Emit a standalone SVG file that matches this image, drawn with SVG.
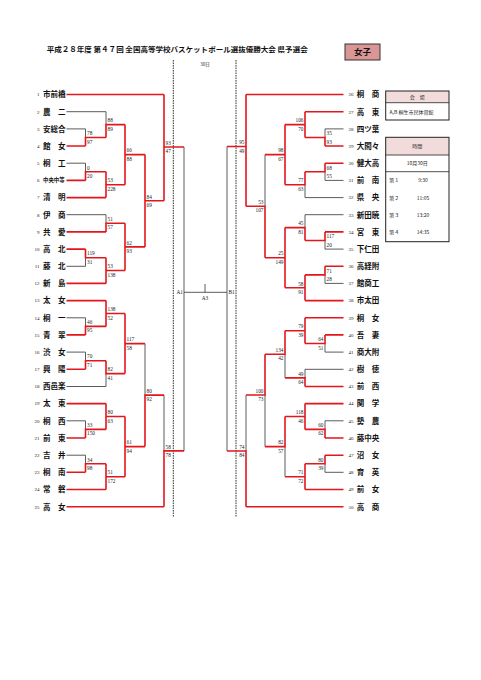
<svg xmlns="http://www.w3.org/2000/svg" width="481" height="680" viewBox="0 0 481 680">
<style>
.r{stroke:#e3161c;stroke-width:1.6;fill:none}
.g{stroke:#4a4a4a;stroke-width:0.9;fill:none}
.d{stroke:#333;stroke-width:1;stroke-dasharray:1.6 0.9;fill:none}
.nm{font-family:"Noto Sans CJK JP","Noto Sans CJK SC",sans-serif;font-size:7.5px;font-weight:bold;fill:#111}
.sm{font-family:"Noto Sans CJK JP","Noto Sans CJK SC",sans-serif;font-size:5.4px;font-weight:bold;fill:#111}
.no{font-family:"Liberation Serif",serif;font-size:5px;fill:#222}
.sc{font-family:"Liberation Serif",serif;font-size:5.3px;fill:#222}
.e{text-anchor:end}
.bx{font-family:"Noto Sans CJK JP",sans-serif;font-size:5px;fill:#222}
</style>
<rect width="481" height="680" fill="#fff"/>
<g id="title">
<text x="46.7" y="51.5" textLength="261" lengthAdjust="spacingAndGlyphs" style="font-family:'Noto Sans CJK JP',sans-serif;font-size:7.3px;font-weight:bold;fill:#111">平成２８年度 第４７回 全国高等学校バスケットボール選抜優勝大会 県予選会</text>
</g>
<g id="badge">
<rect x="345" y="44" width="35" height="16" fill="#d99694" stroke="#333" stroke-width="1"/>
<text x="362.5" y="55.2" text-anchor="middle" style="font-family:'Noto Sans CJK JP',sans-serif;font-size:8.5px;font-weight:bold;fill:#111">女子</text>
</g>
<g id="day"><text x="205" y="66" text-anchor="middle" class="bx" style="font-size:4.5px">30日</text></g>
<g id="connectors">
<path class="d" d="M173.3 60V517M236 60V517"/>
<path class="g" d="M66.5 111.7H106M66.5 128.9H85.5M66.5 163.2H85.5M66.5 214.7H106M66.5 266.3H85.5M66.5 317.8H85.5M66.5 352.1H85.5M66.5 386.5H106M66.5 420.8H85.5M66.5 455.2H85.5
M85.5 128.9V137.45M106 111.7V124.6M85.5 163.2V171.8M106 214.7V223.3M85.5 257.7V266.3M85.5 317.8V326.4M85.5 352.1V360.7M106 373.6V386.5M85.5 420.8V429.4M85.5 455.2V463.8M145 343.6V395.1M164 395.1V450.9
M184 147V450.9M184 292.3H227M205 284V292.3
M343.5 128.9H325M343.5 180.4H325M343.5 197.6H305M343.5 214.7H305M343.5 249.1H325M343.5 283.4H325M343.5 352.1H325M343.5 369.3H305M343.5 420.8H325M343.5 472.3H325
M325 128.9V137.45M325 171.8V180.4M305 184.7V197.6M325 240.5V249.1M305 214.7V227.6M325 274.9V283.4M265 154.6V206.2M325 343.5V352.1M305 369.3V377.9M285 354.3V377.9M325 420.8V429.4M325 463.8V472.3M285 446.6V476.7M265 395V446.6M246 395V451M227 146.5V451"/>
<path class="r" d="M66.5 94.5H164M66.5 146H85.5M66.5 180.4H85.5M66.5 197.6H106M66.5 231.9H106M66.5 249.1H85.5M66.5 283.4H106M66.5 300.6H106M66.5 334.9H85.5M66.5 369.3H85.5M66.5 403.6H106M66.5 438H85.5M66.5 472.3H85.5M66.5 489.5H106M66.5 506.7H164
M85.5 146V137.45H106M106 137.45V124.6H125M85.5 180.4V171.8H106M106 171.8V197.6M106 184.7H125M125 124.6V184.7M125 154.6H145M106 231.9V223.3H125M85.5 249.1V257.7H106M106 257.7V283.4M106 270.5H125M125 223.3V270.5M125 246.9H145M145 154.6V246.9M145 200.8H164M164 94.5V200.8M164 147H184
M85.5 334.9V326.4H106M106 300.6V326.4M106 313.5H125M85.5 369.3V360.7H106M106 360.7V373.6H125M125 313.5V373.6M125 343.6H145M85.5 438V429.4H106M106 403.6V429.4M106 416.5H125M85.5 472.3V463.8H106M106 463.8V489.5M106 476.7H125M125 416.5V476.7M125 446.6H145M145 446.6V395.1H164M164 506.7V450.9H184
M343.5 94.5H246M343.5 111.7H305M343.5 146H325M343.5 163.2H325M343.5 231.9H325M343.5 266.3H325M343.5 300.6H305M343.5 317.8H305M343.5 334.9H325M343.5 386.5H305M343.5 403.6H305M343.5 438H325M343.5 455.2H325M343.5 489.5H305M343.5 506.7H246
M325 146V137.45H305M305 111.7V137.45M305 124.6H285M325 163.2V171.8H305M305 171.8V184.7H285M285 124.6V184.7M285 154.6H265M325 231.9V240.5H305M305 240.5V227.6H285M325 266.3V274.9H305M305 274.9V300.6M305 287.8H285M285 227.6V287.8M285 257.7H265M265 257.7V206.2H246M246 94.5V206.2M246 146.5H227
M325 334.9V343.5H305M305 317.8V343.5M305 330.7H285M305 386.5V377.9H285M285 330.7V354.3H265M325 438V429.4H305M305 403.6V429.4M305 416.5H285M325 455.2V463.8H305M305 463.8V489.5M305 476.7H285M285 416.5V446.6H265M265 354.3V395H246M246 506.7V451H227"/>
</g>
<g id="final-labels">
<text class="sc e" x="183" y="294">A1</text>
<text class="sc" x="228.5" y="294">B1</text>
<text class="sc" x="205" y="300" text-anchor="middle">A3</text>
</g>
<g id="scores-left" class="sc">
<text x="87" y="135.2">78</text><text x="87" y="143.5">97</text>
<text x="107.5" y="122.3">88</text><text x="107.5" y="130.6">89</text>
<text x="87" y="169.5">0</text><text x="87" y="177.8">20</text>
<text x="107.5" y="182.4">53</text><text x="107.5" y="190.7">228</text>
<text x="126.5" y="152.3">66</text><text x="126.5" y="160.6">88</text>
<text x="107.5" y="221">51</text><text x="107.5" y="229.3">57</text>
<text x="87" y="255.4">119</text><text x="87" y="263.7">31</text>
<text x="107.5" y="268.2">53</text><text x="107.5" y="276.5">138</text>
<text x="126.5" y="244.6">62</text><text x="126.5" y="252.9">93</text>
<text x="146.5" y="198.5">84</text><text x="146.5" y="206.8">69</text>
<text x="165.5" y="144.7">93</text><text x="165.5" y="153">47</text>
<text x="87" y="324.1">46</text><text x="87" y="332.4">95</text>
<text x="107.5" y="311.2">138</text><text x="107.5" y="319.5">52</text>
<text x="87" y="358.4">70</text><text x="87" y="366.7">71</text>
<text x="107.5" y="371.3">82</text><text x="107.5" y="379.6">41</text>
<text x="126.5" y="341.3">117</text><text x="126.5" y="349.6">58</text>
<text x="87" y="427.1">33</text><text x="87" y="435.4">150</text>
<text x="107.5" y="414.2">80</text><text x="107.5" y="422.5">63</text>
<text x="87" y="461.5">34</text><text x="87" y="469.8">98</text>
<text x="107.5" y="474.4">51</text><text x="107.5" y="482.7">172</text>
<text x="126.5" y="444.3">61</text><text x="126.5" y="452.6">94</text>
<text x="146.5" y="392.8">80</text><text x="146.5" y="401.1">92</text>
<text x="165.5" y="448.6">58</text><text x="165.5" y="456.9">78</text>
</g>
<g id="scores-right" class="sc">
<text x="326.5" y="135.2">35</text><text x="326.5" y="143.5">93</text>
<text class="e" x="303.5" y="122.3">106</text><text class="e" x="303.5" y="130.6">70</text>
<text x="326.5" y="169.5">68</text><text x="326.5" y="177.8">55</text>
<text class="e" x="303.5" y="182.4">77</text><text class="e" x="303.5" y="190.7">63</text>
<text class="e" x="283.5" y="152.3">98</text><text class="e" x="283.5" y="160.6">67</text>
<text x="326.5" y="238.2">117</text><text x="326.5" y="246.5">20</text>
<text class="e" x="303.5" y="225.3">45</text><text class="e" x="303.5" y="233.6">81</text>
<text x="326.5" y="272.6">71</text><text x="326.5" y="280.9">28</text>
<text class="e" x="303.5" y="285.5">58</text><text class="e" x="303.5" y="293.8">91</text>
<text class="e" x="283.5" y="255.4">25</text><text class="e" x="283.5" y="263.7">149</text>
<text class="e" x="263.5" y="203.9">53</text><text class="e" x="263.5" y="212.2">107</text>
<text class="e" x="244.5" y="144.2">95</text><text class="e" x="244.5" y="152.5">49</text>
<text class="e" x="323.5" y="341.2">64</text><text class="e" x="323.5" y="349.5">51</text>
<text class="e" x="303.5" y="328.4">79</text><text class="e" x="303.5" y="336.7">39</text>
<text class="e" x="303.5" y="375.6">49</text><text class="e" x="303.5" y="383.9">64</text>
<text class="e" x="283.5" y="352">134</text><text class="e" x="283.5" y="360.3">42</text>
<text class="e" x="323.5" y="427.1">60</text><text class="e" x="323.5" y="435.4">62</text>
<text class="e" x="303.5" y="414.2">118</text><text class="e" x="303.5" y="422.5">46</text>
<text class="e" x="323.5" y="461.5">80</text><text class="e" x="323.5" y="469.8">39</text>
<text class="e" x="303.5" y="474.4">71</text><text class="e" x="303.5" y="482.7">72</text>
<text class="e" x="283.5" y="444.3">82</text><text class="e" x="283.5" y="452.6">57</text>
<text class="e" x="263.5" y="392.7">100</text><text class="e" x="263.5" y="401">73</text>
<text class="e" x="244.5" y="448.7">74</text><text class="e" x="244.5" y="457">84</text>
</g>
<g id="team-1"><text class="no e" x="39.5" y="96.3">1</text><text class="nm" x="43" y="97.3">市前橋</text></g>
<g id="team-2"><text class="no e" x="39.5" y="113.5">2</text><text class="nm" x="43" y="114.5">農　二</text></g>
<g id="team-3"><text class="no e" x="39.5" y="130.7">3</text><text class="nm" x="43" y="131.7">安総合</text></g>
<g id="team-4"><text class="no e" x="39.5" y="147.8">4</text><text class="nm" x="43" y="148.8">館　女</text></g>
<g id="team-5"><text class="no e" x="39.5" y="165">5</text><text class="nm" x="43" y="166">桐　工</text></g>
<g id="team-6"><text class="no e" x="39.5" y="182.2">6</text><text class="sm" x="43" y="182.4">中央中等</text></g>
<g id="team-7"><text class="no e" x="39.5" y="199.4">7</text><text class="nm" x="43" y="200.4">清　明</text></g>
<g id="team-8"><text class="no e" x="39.5" y="216.5">8</text><text class="nm" x="43" y="217.5">伊　商</text></g>
<g id="team-9"><text class="no e" x="39.5" y="233.7">9</text><text class="nm" x="43" y="234.7">共　愛</text></g>
<g id="team-10"><text class="no e" x="39.5" y="250.9">10</text><text class="nm" x="43" y="251.9">高　北</text></g>
<g id="team-11"><text class="no e" x="39.5" y="268.1">11</text><text class="nm" x="43" y="269.1">藤　北</text></g>
<g id="team-12"><text class="no e" x="39.5" y="285.2">12</text><text class="nm" x="43" y="286.2">新　島</text></g>
<g id="team-13"><text class="no e" x="39.5" y="302.4">13</text><text class="nm" x="43" y="303.4">太　女</text></g>
<g id="team-14"><text class="no e" x="39.5" y="319.6">14</text><text class="nm" x="43" y="320.6">桐　一</text></g>
<g id="team-15"><text class="no e" x="39.5" y="336.7">15</text><text class="nm" x="43" y="337.7">青　翠</text></g>
<g id="team-16"><text class="no e" x="39.5" y="353.9">16</text><text class="nm" x="43" y="354.9">渋　女</text></g>
<g id="team-17"><text class="no e" x="39.5" y="371.1">17</text><text class="nm" x="43" y="372.1">興　陽</text></g>
<g id="team-18"><text class="no e" x="39.5" y="388.3">18</text><text class="nm" x="43" y="389.3">西邑楽</text></g>
<g id="team-19"><text class="no e" x="39.5" y="405.4">19</text><text class="nm" x="43" y="406.4">太　東</text></g>
<g id="team-20"><text class="no e" x="39.5" y="422.6">20</text><text class="nm" x="43" y="423.6">桐　西</text></g>
<g id="team-21"><text class="no e" x="39.5" y="439.8">21</text><text class="nm" x="43" y="440.8">前　東</text></g>
<g id="team-22"><text class="no e" x="39.5" y="457">22</text><text class="nm" x="43" y="458">吉　井</text></g>
<g id="team-23"><text class="no e" x="39.5" y="474.1">23</text><text class="nm" x="43" y="475.1">桐　南</text></g>
<g id="team-24"><text class="no e" x="39.5" y="491.3">24</text><text class="nm" x="43" y="492.3">常　磐</text></g>
<g id="team-25"><text class="no e" x="39.5" y="508.5">25</text><text class="nm" x="43" y="509.5">高　女</text></g>
<g id="team-26"><text class="no e" x="353.5" y="96.3">26</text><text class="nm" x="356.7" y="97.3">桐　商</text></g>
<g id="team-27"><text class="no e" x="353.5" y="113.5">27</text><text class="nm" x="356.7" y="114.5">高　東</text></g>
<g id="team-28"><text class="no e" x="353.5" y="130.7">28</text><text class="nm" x="356.7" y="131.7">四ツ葉</text></g>
<g id="team-29"><text class="no e" x="353.5" y="147.8">29</text><text class="nm" x="356.7" y="148.8">大間々</text></g>
<g id="team-30"><text class="no e" x="353.5" y="165">30</text><text class="nm" x="356.7" y="166">健大高</text></g>
<g id="team-31"><text class="no e" x="353.5" y="182.2">31</text><text class="nm" x="356.7" y="183.2">前　南</text></g>
<g id="team-32"><text class="no e" x="353.5" y="199.4">32</text><text class="nm" x="356.7" y="200.4">県　央</text></g>
<g id="team-33"><text class="no e" x="353.5" y="216.5">33</text><text class="nm" x="356.7" y="217.5">新田暁</text></g>
<g id="team-34"><text class="no e" x="353.5" y="233.7">34</text><text class="nm" x="356.7" y="234.7">宮　東</text></g>
<g id="team-35"><text class="no e" x="353.5" y="250.9">35</text><text class="nm" x="356.7" y="251.9">下仁田</text></g>
<g id="team-36"><text class="no e" x="353.5" y="268.1">36</text><text class="nm" x="356.7" y="269.1">高経附</text></g>
<g id="team-37"><text class="no e" x="353.5" y="285.2">37</text><text class="nm" x="356.7" y="286.2">館商工</text></g>
<g id="team-38"><text class="no e" x="353.5" y="302.4">38</text><text class="nm" x="356.7" y="303.4">市太田</text></g>
<g id="team-39"><text class="no e" x="353.5" y="319.6">39</text><text class="nm" x="356.7" y="320.6">桐　女</text></g>
<g id="team-40"><text class="no e" x="353.5" y="336.7">40</text><text class="nm" x="356.7" y="337.7">吾　妻</text></g>
<g id="team-41"><text class="no e" x="353.5" y="353.9">41</text><text class="nm" x="356.7" y="354.9">商大附</text></g>
<g id="team-42"><text class="no e" x="353.5" y="371.1">42</text><text class="nm" x="356.7" y="372.1">樹　徳</text></g>
<g id="team-43"><text class="no e" x="353.5" y="388.3">43</text><text class="nm" x="356.7" y="389.3">前　西</text></g>
<g id="team-44"><text class="no e" x="353.5" y="405.4">44</text><text class="nm" x="356.7" y="406.4">関　学</text></g>
<g id="team-45"><text class="no e" x="353.5" y="422.6">45</text><text class="nm" x="356.7" y="423.6">勢　農</text></g>
<g id="team-46"><text class="no e" x="353.5" y="439.8">46</text><text class="nm" x="356.7" y="440.8">藤中央</text></g>
<g id="team-47"><text class="no e" x="353.5" y="457">47</text><text class="nm" x="356.7" y="458">沼　女</text></g>
<g id="team-48"><text class="no e" x="353.5" y="474.1">48</text><text class="nm" x="356.7" y="475.1">育　英</text></g>
<g id="team-49"><text class="no e" x="353.5" y="491.3">49</text><text class="nm" x="356.7" y="492.3">前　女</text></g>
<g id="team-50"><text class="no e" x="353.5" y="508.5">50</text><text class="nm" x="356.7" y="509.5">高　商</text></g>
<g id="venue">
<rect x="385.7" y="91" width="63.3" height="11.7" fill="#f2dcdb"/>
<rect x="385.7" y="91" width="63.3" height="29" fill="none" stroke="#222" stroke-width="1"/>
<path d="M385.7 102.7H449" stroke="#222" stroke-width="0.8"/>
<text class="bx" x="417.3" y="98.8" text-anchor="middle">会　場</text>
<text class="bx" x="389.5" y="113.6">A,B</text>
<text class="bx" x="398.5" y="113.6">桐生市民体育館</text>
</g>
<g id="schedule">
<rect x="385.7" y="137.3" width="63.3" height="17.7" fill="#f2dcdb"/>
<rect x="385.7" y="137.3" width="63.3" height="104.4" fill="none" stroke="#222" stroke-width="1"/>
<path d="M385.7 155H449M385.7 171.7H449" stroke="#222" stroke-width="0.8"/>
<text class="bx" x="417.3" y="148" text-anchor="middle">時間</text>
<text class="bx" x="417.3" y="165.2" text-anchor="middle">10月30日</text>
<text class="bx" x="389.3" y="181.8">第１</text><text class="bx" x="423" y="181.8" text-anchor="middle">9:30</text>
<text class="bx" x="389.3" y="199.5">第２</text><text class="bx" x="423" y="199.5" text-anchor="middle">11:05</text>
<text class="bx" x="389.3" y="216.8">第３</text><text class="bx" x="423" y="216.8" text-anchor="middle">13:20</text>
<text class="bx" x="389.3" y="234.1">第４</text><text class="bx" x="423" y="234.1" text-anchor="middle">14:35</text>
</g>
</svg>
